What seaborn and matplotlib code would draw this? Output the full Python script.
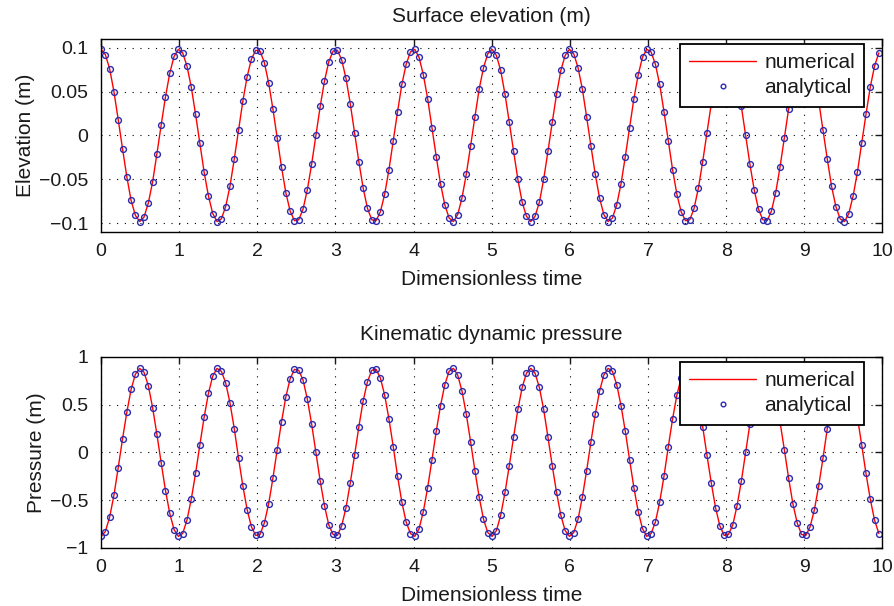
import matplotlib
matplotlib.use("Agg")
import matplotlib.pyplot as plt
import seaborn as sns

# sample times (dimensionless)
time = [
    0, 0.055, 0.11, 0.165, 0.22, 0.275, 0.33, 0.385, 0.44, 0.495,
    0.55, 0.605, 0.66, 0.715, 0.77, 0.825, 0.88, 0.935, 0.99, 1.045,
    1.1, 1.155, 1.21, 1.265, 1.32, 1.375, 1.43, 1.485, 1.54, 1.595,
    1.65, 1.705, 1.76, 1.815, 1.87, 1.925, 1.98, 2.035, 2.09, 2.145,
    2.2, 2.255, 2.31, 2.365, 2.42, 2.475, 2.53, 2.585, 2.64, 2.695,
    2.75, 2.805, 2.86, 2.915, 2.97, 3.025, 3.08, 3.135, 3.19, 3.245,
    3.3, 3.355, 3.41, 3.465, 3.52, 3.575, 3.63, 3.685, 3.74, 3.795,
    3.85, 3.905, 3.96, 4.015, 4.07, 4.125, 4.18, 4.235, 4.29, 4.345,
    4.4, 4.455, 4.51, 4.565, 4.62, 4.675, 4.73, 4.785, 4.84, 4.895,
    4.95, 5.005, 5.06, 5.115, 5.17, 5.225, 5.28, 5.335, 5.39, 5.445,
    5.5, 5.555, 5.61, 5.665, 5.72, 5.775, 5.83, 5.885, 5.94, 5.995,
    6.05, 6.105, 6.16, 6.215, 6.27, 6.325, 6.38, 6.435, 6.49, 6.545,
    6.6, 6.655, 6.71, 6.765, 6.82, 6.875, 6.93, 6.985, 7.04, 7.095,
    7.15, 7.205, 7.26, 7.315, 7.37, 7.425, 7.48, 7.535, 7.59, 7.645,
    7.7, 7.755, 7.81, 7.865, 7.92, 7.975, 8.03, 8.085, 8.14, 8.195,
    8.25, 8.305, 8.36, 8.415, 8.47, 8.525, 8.58, 8.635, 8.69, 8.745,
    8.8, 8.855, 8.91, 8.965, 9.02, 9.075, 9.13, 9.185, 9.24, 9.295,
    9.35, 9.405, 9.46, 9.515, 9.57, 9.625, 9.68, 9.735, 9.79, 9.845,
    9.9, 9.955,
]

# surface elevation (m)
elevation = [
    0.098, 0.092, 0.076, 0.050, 0.018, -0.015, -0.047, -0.074, -0.091, -0.098,
    -0.093, -0.077, -0.053, -0.021, 0.012, 0.044, 0.071, 0.090, 0.098, 0.094,
    0.079, 0.055, 0.024, -0.009, -0.042, -0.069, -0.089, -0.098, -0.095, -0.081,
    -0.058, -0.027, 0.006, 0.039, 0.067, 0.087, 0.097, 0.096, 0.083, 0.060,
    0.030, -0.003, -0.036, -0.065, -0.086, -0.097, -0.096, -0.084, -0.062, -0.033,
    0.000, 0.033, 0.062, 0.084, 0.096, 0.097, 0.086, 0.065, 0.036, 0.003,
    -0.030, -0.060, -0.083, -0.096, -0.097, -0.087, -0.067, -0.039, -0.006, 0.027,
    0.058, 0.081, 0.095, 0.098, 0.089, 0.069, 0.042, 0.009, -0.024, -0.055,
    -0.079, -0.094, -0.098, -0.090, -0.071, -0.044, -0.012, 0.021, 0.053, 0.077,
    0.093, 0.098, 0.091, 0.074, 0.047, 0.015, -0.018, -0.050, -0.076, -0.092,
    -0.098, -0.092, -0.076, -0.050, -0.018, 0.015, 0.047, 0.074, 0.091, 0.098,
    0.093, 0.077, 0.053, 0.021, -0.012, -0.044, -0.071, -0.090, -0.098, -0.094,
    -0.079, -0.055, -0.024, 0.009, 0.042, 0.069, 0.089, 0.098, 0.095, 0.081,
    0.058, 0.027, -0.006, -0.039, -0.067, -0.087, -0.097, -0.096, -0.083, -0.060,
    -0.030, 0.003, 0.036, 0.065, 0.086, 0.097, 0.096, 0.084, 0.062, 0.033,
    0.000, -0.033, -0.062, -0.084, -0.096, -0.097, -0.086, -0.065, -0.036, -0.003,
    0.030, 0.060, 0.083, 0.096, 0.097, 0.087, 0.067, 0.039, 0.006, -0.027,
    -0.058, -0.081, -0.095, -0.098, -0.089, -0.069, -0.042, -0.009, 0.024, 0.055,
    0.079, 0.094,
]

# kinematic dynamic pressure (m)
pressure = [
    -0.88, -0.83, -0.68, -0.45, -0.16, 0.14, 0.42, 0.66, 0.82, 0.88,
    0.84, 0.70, 0.47, 0.19, -0.11, -0.40, -0.64, -0.81, -0.88, -0.85,
    -0.71, -0.49, -0.22, 0.08, 0.37, 0.62, 0.80, 0.88, 0.85, 0.73,
    0.52, 0.25, -0.06, -0.35, -0.60, -0.78, -0.87, -0.86, -0.74, -0.54,
    -0.27, 0.03, 0.32, 0.58, 0.77, 0.87, 0.86, 0.76, 0.56, 0.30,
    0.00, -0.30, -0.56, -0.76, -0.86, -0.87, -0.77, -0.58, -0.32, -0.03,
    0.27, 0.54, 0.74, 0.86, 0.87, 0.78, 0.60, 0.35, 0.06, -0.25,
    -0.52, -0.73, -0.85, -0.88, -0.80, -0.62, -0.37, -0.08, 0.22, 0.49,
    0.71, 0.85, 0.88, 0.81, 0.64, 0.40, 0.11, -0.19, -0.47, -0.70,
    -0.84, -0.88, -0.82, -0.66, -0.42, -0.14, 0.16, 0.45, 0.68, 0.83,
    0.88, 0.83, 0.68, 0.45, 0.16, -0.14, -0.42, -0.66, -0.82, -0.88,
    -0.84, -0.70, -0.47, -0.19, 0.11, 0.40, 0.64, 0.81, 0.88, 0.85,
    0.71, 0.49, 0.22, -0.08, -0.37, -0.62, -0.80, -0.88, -0.85, -0.73,
    -0.52, -0.25, 0.06, 0.35, 0.60, 0.78, 0.87, 0.86, 0.74, 0.54,
    0.27, -0.03, -0.32, -0.58, -0.77, -0.87, -0.86, -0.76, -0.56, -0.30,
    0.00, 0.30, 0.56, 0.76, 0.86, 0.87, 0.77, 0.58, 0.32, 0.03,
    -0.27, -0.54, -0.74, -0.86, -0.87, -0.78, -0.60, -0.35, -0.06, 0.25,
    0.52, 0.73, 0.85, 0.88, 0.80, 0.62, 0.37, 0.08, -0.22, -0.49,
    -0.71, -0.85,
]

x_ticks = [0, 1, 2, 3, 4, 5, 6, 7, 8, 9, 10]
elev_ticks = [-0.1, -0.05, 0, 0.05, 0.1]
elev_labels = ["\u22120.1", "\u22120.05", "0", "0.05", "0.1"]
pres_ticks = [-1, -0.5, 0, 0.5, 1]
pres_labels = ["\u22121", "\u22120.5", "0", "0.5", "1"]

sns.set_style("white")
plt.rcParams["font.family"] = ["Liberation Sans", "DejaVu Sans"]
plt.rcParams["text.color"] = "#1a1a1a"

fig = plt.figure(figsize=(8.94, 6.06), dpi=100)
ax1 = fig.add_axes([0.113, 0.617, 0.874, 0.319])
ax2 = fig.add_axes([0.113, 0.096, 0.874, 0.315])

panels = [
    (ax1, elevation, "Surface elevation (m)", "Elevation (m)",
     (-0.11, 0.11), elev_ticks, elev_labels),
    (ax2, pressure, "Kinematic dynamic pressure", "Pressure (m)",
     (-1, 1), pres_ticks, pres_labels),
]

for ax, values, title, ylabel, ylim, yticks, ylabels in panels:
    # numerical solution (red line)
    sns.lineplot(x=time, y=values, ax=ax, color="red", linewidth=1.0,
                 estimator=None, sort=False, label="numerical")
    # analytical solution (open blue circles)
    sns.lineplot(x=time, y=values, ax=ax, estimator=None, sort=False,
                 linestyle="none", marker="o", markersize=4.2,
                 markerfacecolor="none", markeredgecolor="#2a2ab0",
                 markeredgewidth=1.0, color="#2a2ab0", label="analytical")

    ax.set_xlim(0, 10)
    ax.set_ylim(*ylim)
    ax.set_xticks(x_ticks)
    ax.set_yticks(yticks)
    ax.set_yticklabels(ylabels)
    ax.set_title(title, fontsize=15, pad=12, color="#1a1a1a")
    ax.set_xlabel("Dimensionless time", fontsize=15, labelpad=7, color="#1a1a1a")
    ax.set_ylabel(ylabel, fontsize=15, labelpad=3, color="#1a1a1a")
    ax.grid(True, color="black", linestyle=(0, (1, 6)), linewidth=0.8)
    ax.tick_params(direction="in", length=5, width=1, top=True, right=True,
                   labelsize=14, colors="#1a1a1a")
    ax.tick_params(axis="x", pad=8)
    ax.tick_params(axis="y", pad=9)
    for s in ax.spines.values():
        s.set_color("black")
        s.set_linewidth(1.0)

    leg = ax.legend(loc="upper right", bbox_to_anchor=(0.977, 0.975),
                    borderaxespad=0, fontsize=15, frameon=True,
                    fancybox=False, framealpha=1, edgecolor="black",
                    handlelength=3.2, labelspacing=0.3, handletextpad=0.4,
                    borderpad=0.45, markerscale=0.8)
    leg.get_frame().set_linewidth(1.3)

fig.savefig("out.png", dpi=100)
